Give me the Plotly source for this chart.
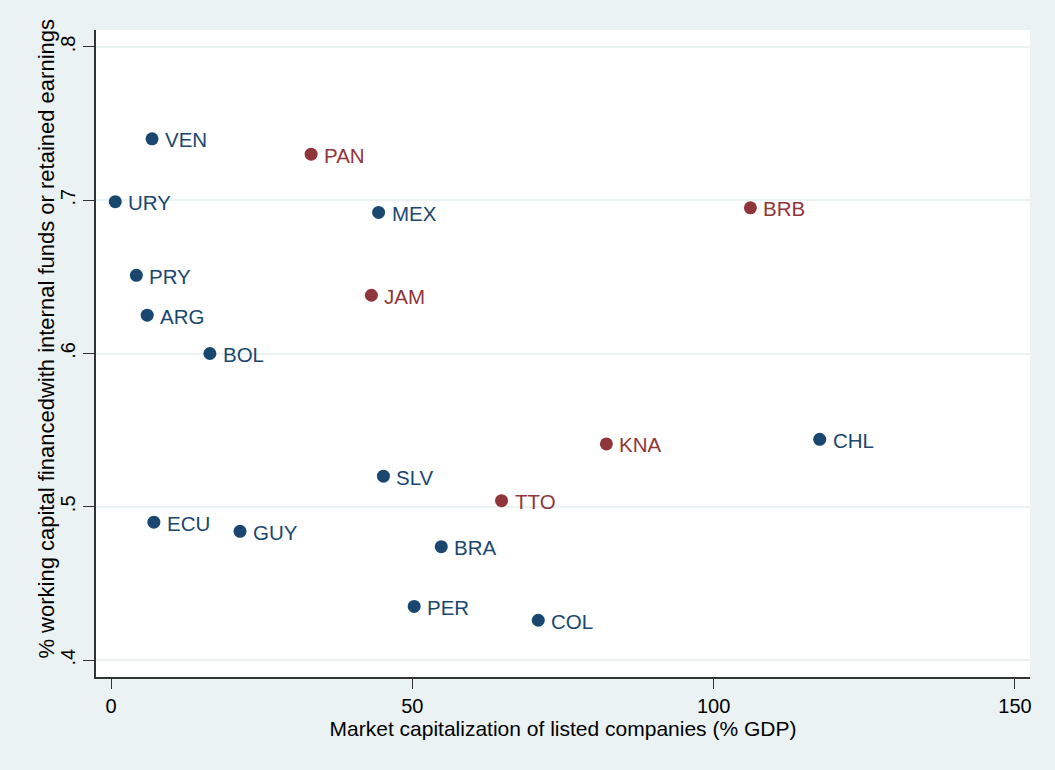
import plotly.graph_objects as go

# Blue group
blue_codes = ["VEN", "URY", "MEX", "PRY", "ARG", "BOL", "CHL", "SLV", "ECU", "GUY", "BRA", "PER", "COL"]
blue_mcap = [6.8, 0.7, 44.4, 4.2, 6.0, 16.4, 117.6, 45.2, 7.1, 21.4, 54.8, 50.3, 70.9]
blue_wc = [0.740, 0.699, 0.692, 0.651, 0.625, 0.600, 0.544, 0.520, 0.490, 0.484, 0.474, 0.435, 0.426]

# Red group
red_codes = ["PAN", "BRB", "JAM", "KNA", "TTO"]
red_mcap = [33.2, 106.1, 43.2, 82.2, 64.8]
red_wc = [0.730, 0.695, 0.638, 0.541, 0.504]

x_ticks = [0, 50, 100, 150]
y_ticks = [0.4, 0.5, 0.6, 0.7, 0.8]
y_tick_text = [".4", ".5", ".6", ".7", ".8"]

x_title = "Market capitalization of listed companies (% GDP)"
y_title = "% working capital financedwith internal funds or retained earnings"

BLUE = "#1A476F"
RED = "#90353B"
BG = "#EAF2F3"
FONT = "Liberation Sans, Arial, sans-serif"

fig = go.Figure()
annotations = []
for codes, xs, ys, col in [(blue_codes, blue_mcap, blue_wc, BLUE), (red_codes, red_mcap, red_wc, RED)]:
    fig.add_trace(go.Scatter(
        x=xs, y=ys, mode="markers",
        marker=dict(color=col, size=13, line=dict(width=0)),
        showlegend=False, cliponaxis=False, hovertext=codes,
    ))
    for c, xv, yv in zip(codes, xs, ys):
        annotations.append(dict(
            x=xv, y=yv, xref="x", yref="y", text=c, showarrow=False,
            xanchor="left", yanchor="middle", xshift=11, yshift=-1,
            font=dict(color=col, size=20.5, family=FONT),
        ))

annotations.append(dict(
    x=-0.0525, y=0.523, xref="paper", yref="paper", text=y_title, showarrow=False,
    textangle=-90, xanchor="center", yanchor="middle",
    font=dict(size=22, family=FONT, color="black"),
))

fig.update_layout(
    width=1055, height=770,
    paper_bgcolor=BG, plot_bgcolor="white",
    margin=dict(l=88, r=33, t=22, b=101),
    font=dict(family=FONT, size=20, color="black"),
    annotations=annotations,
    xaxis=dict(
        range=[-2.5, 152.5], tickvals=x_ticks, ticks="outside", ticklen=10,
        tickcolor="#333", showgrid=False, zeroline=False,
        showline=True, linecolor="#333", linewidth=1.5,
        title=dict(text=x_title, font=dict(size=21), standoff=2),
        tickfont=dict(size=20),
    ),
    yaxis=dict(
        range=[0.389, 0.811], tickvals=y_ticks, ticktext=y_tick_text, ticks="outside", ticklen=11,
        tickcolor="#333", tickangle=-90, showgrid=True, gridcolor=BG, gridwidth=2, zeroline=False,
        showline=True, linecolor="#333", linewidth=1.5,
        tickfont=dict(size=20),
    ),
)

fig.write_html("out.html", post_script="document.body.style.background='#EAF2F3';")
